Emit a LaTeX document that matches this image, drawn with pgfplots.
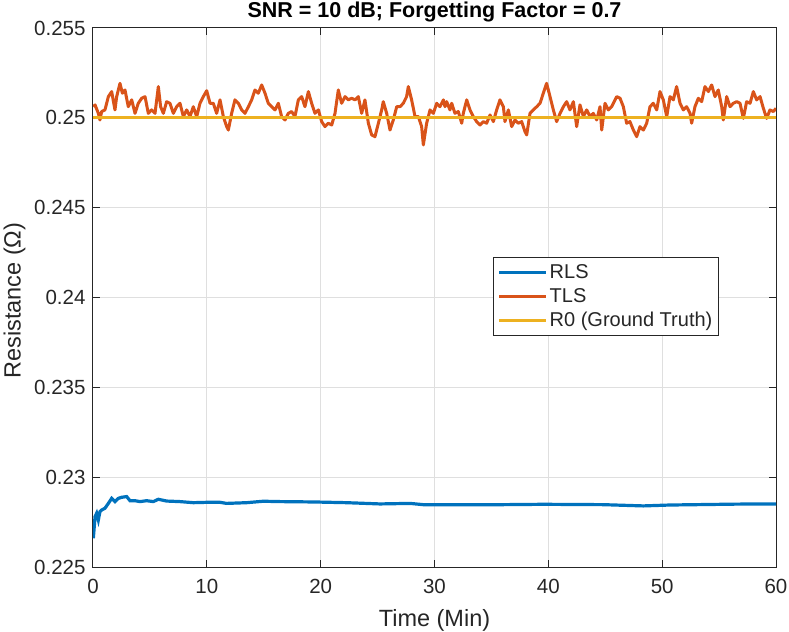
\documentclass[border=0pt]{standalone}
\usepackage{fontspec}
\setmainfont{Liberation Sans}
\usepackage{pgfplots}
\pgfplotsset{compat=1.18}
\definecolor{mlblue}{rgb}{0,0.447,0.741}
\definecolor{mlorange}{rgb}{0.85,0.325,0.098}
\definecolor{mlyellow}{rgb}{0.929,0.694,0.125}
\definecolor{axc}{rgb}{0.15,0.15,0.15}
\definecolor{gridc}{rgb}{0.875,0.875,0.875}
\begin{document}
\begin{tikzpicture}
\begin{axis}[
  name=ax, at={(0,0)}, anchor=south west,
  scale only axis, width=683bp, height=539bp,
  xmin=0, xmax=60, ymin=0.225, ymax=0.255,
  xtick={0,10,20,30,40,50,60},
  ytick={0.225,0.23,0.235,0.24,0.245,0.25,0.255},
  scaled y ticks=false,
  /pgf/number format/assume math mode=true,
  yticklabel style={/pgf/number format/fixed,/pgf/number format/precision=3, xshift=-4bp},
  xticklabel style={yshift=-9bp},
  tick pos=both, tick align=inside,
  major tick length=7bp,
  grid=major,
  major grid style={line width=1bp, color=gridc},
  axis line style={line width=1bp, color=axc},
  every tick/.style={line width=1bp, color=axc},
  tick label style={font=\fontsize{20.5bp}{24bp}\selectfont, color=axc},
  label style={font=\fontsize{23.5bp}{28bp}\selectfont, color=axc},
  xlabel={Time (Min)},
  ylabel={Resistance (Ω)},
  xlabel style={at={(axis description cs:0.5,-0.1113)}, anchor=base},
  ylabel style={at={(axis description cs:-0.106,0.494)}, anchor=base, rotate=0},
  title={SNR = 10 dB; Forgetting Factor = 0.7},
  title style={font=\bfseries\fontsize{21.5bp}{26bp}\selectfont, at={(axis description cs:0.5,1.0186)}, anchor=base, yshift=-6pt},
  legend style={at={(0.5857,0.5751)}, anchor=north west, draw=axc, line width=1bp,
    font=\fontsize{20bp}{24bp}\selectfont, text=axc, row sep=4.5bp, inner xsep=4bp, inner ysep=5bp},
  legend cell align=left,
  legend image code/.code={\draw[#1] (0bp,0bp) -- (47bp,0bp);},
]
\addplot[mlblue, line width=3.2bp] coordinates {
(0.03,0.22660) (0.18,0.22780) (0.32,0.22799) (0.47,0.22762) (0.61,0.22808) (0.76,0.22817)
(1.05,0.22827) (1.35,0.22854) (1.64,0.22882) (1.93,0.22864) (2.23,0.22882) (2.52,0.22888)
(2.96,0.22892) (3.25,0.22869) (3.69,0.22869) (4.13,0.22864) (4.71,0.22869) (5.30,0.22864)
(5.74,0.22877) (6.47,0.22867) (7.64,0.22864) (8.81,0.22858) (9.99,0.22860) (11.16,0.22860)
(11.74,0.22854) (13.50,0.22858) (14.96,0.22866) (16.43,0.22864) (19.36,0.22862) (22.28,0.22858)
(25.21,0.22851) (27.85,0.22854) (29.0,0.22847) (36.04,0.22847) (39.56,0.22849) (44.83,0.22847)
(48.34,0.22840) (50.68,0.22845) (56.54,0.22850) (60,0.22851)
};
\addlegendentry{RLS}
\addplot[mlorange, line width=3bp, line join=round] coordinates {
(0.03,0.25062) (0.18,0.25072) (0.47,0.25025) (0.61,0.24988) (0.76,0.25035) (1.05,0.25044)
(1.35,0.25118) (1.64,0.25146) (1.93,0.25044) (2.08,0.25118) (2.37,0.25192) (2.58,0.25137)
(2.81,0.25155) (3.10,0.25062) (3.40,0.25100) (3.69,0.25025) (3.98,0.25081) (4.28,0.25109)
(4.57,0.25118) (4.86,0.25025) (5.15,0.25044) (5.45,0.25025) (5.74,0.25174) (5.94,0.25062)
(6.18,0.25025) (6.47,0.25090) (6.76,0.25081) (7.06,0.25025) (7.35,0.25062) (7.64,0.25081)
(7.94,0.25007) (8.23,0.25044) (8.52,0.25007) (8.81,0.25062) (9.11,0.25007) (9.40,0.25081)
(9.69,0.25118) (9.99,0.25151) (10.28,0.25081) (10.57,0.25081) (10.86,0.25025) (11.16,0.25100)
(11.45,0.25007) (11.74,0.24951) (11.89,0.24932) (12.18,0.25025) (12.47,0.25100) (12.77,0.25081)
(13.06,0.25044) (13.35,0.25025) (13.65,0.25062) (13.94,0.25100) (14.23,0.25155) (14.52,0.25137)
(14.82,0.25183) (15.11,0.25137) (15.40,0.25081) (15.70,0.25062) (15.99,0.25044) (16.28,0.25081)
(16.57,0.25007) (16.87,0.24988) (17.16,0.25025) (17.45,0.25035) (17.74,0.25007) (18.04,0.25100)
(18.33,0.25118) (18.62,0.25062) (18.92,0.25146) (19.21,0.25081) (19.50,0.25025) (19.80,0.25044)
(20.09,0.24979) (20.38,0.24951) (20.67,0.24970) (20.97,0.24960) (21.26,0.25025) (21.55,0.25155)
(21.84,0.25081) (22.14,0.25118) (22.43,0.25100) (22.72,0.25109) (23.02,0.25100) (23.31,0.25118)
(23.60,0.25025) (23.89,0.25100) (24.19,0.24970) (24.48,0.24905) (24.77,0.24895) (25.07,0.24970)
(25.36,0.25044) (25.50,0.25090) (25.80,0.25025) (26.09,0.24932) (26.38,0.24988) (26.68,0.25062)
(26.97,0.25062) (27.26,0.25081) (27.55,0.25118) (27.70,0.25174) (27.99,0.25100) (28.29,0.25007)
(28.58,0.25007) (28.87,0.24951) (29.02,0.24849) (29.31,0.24970)
(29.61,0.25044) (29.90,0.25025) (30.19,0.25081) (30.48,0.25062) (30.78,0.25100) (30.92,0.25062)
(31.07,0.25090) (31.36,0.25044) (31.51,0.25081) (31.80,0.25025) (32.09,0.25035) (32.39,0.24970)
(32.53,0.25025) (32.83,0.25100) (33.12,0.25044) (33.41,0.25007) (33.70,0.24979) (34.00,0.24960)
(34.29,0.24979) (34.58,0.24970) (34.88,0.25016) (35.17,0.24979) (35.46,0.25044) (35.75,0.25100)
(36.05,0.25062) (36.19,0.24979) (36.49,0.25044) (36.78,0.24951) (37.07,0.24988) (37.36,0.24970)
(37.66,0.24979) (37.95,0.24923) (38.10,0.24905) (38.39,0.25025) (38.68,0.25044) (38.98,0.25062)
(39.27,0.25081) (39.56,0.25137) (39.85,0.25192) (40.15,0.25118) (40.44,0.25044) (40.73,0.24979)
(41.03,0.25025) (41.32,0.25062) (41.61,0.25090) (41.90,0.25044) (42.20,0.25090) (42.49,0.24951)
(42.78,0.25072) (43.08,0.25007) (43.37,0.25044) (43.66,0.25007) (43.95,0.25025) (44.25,0.24988)
(44.54,0.25062) (44.69,0.24932) (44.98,0.25081) (45.27,0.25044) (45.56,0.25062) (46.00,0.25118)
(46.30,0.25109) (46.59,0.25062) (46.88,0.24970) (47.17,0.24979) (47.47,0.24932) (47.76,0.24895)
(48.05,0.24951) (48.35,0.24932) (48.64,0.24970) (48.93,0.25062) (49.22,0.25081) (49.52,0.25044)
(49.81,0.25146) (50.10,0.25100) (50.40,0.25007) (50.69,0.25118) (50.98,0.25100) (51.27,0.25174)
(51.57,0.25081) (51.86,0.25044) (52.15,0.25062) (52.45,0.25025) (52.59,0.24970) (52.88,0.25062)
(53.18,0.25109) (53.47,0.25090) (53.76,0.25174) (54.06,0.25146) (54.35,0.25183) (54.64,0.25118)
(54.93,0.25155) (55.23,0.25062) (55.37,0.24988) (55.67,0.25118) (55.96,0.25062) (56.25,0.25081)
(56.55,0.25090) (56.84,0.25081) (57.13,0.24997) (57.42,0.25090) (57.72,0.25081) (58.01,0.25146)
(58.30,0.25100) (58.60,0.25118) (58.89,0.25053) (59.18,0.24997) (59.47,0.25044) (59.77,0.25035)
(60.00,0.25053)
};
\addlegendentry{TLS}
\addplot[mlyellow, line width=3bp] coordinates {(0,0.25) (60,0.25)};
\addlegendentry{R0 (Ground Truth)}
\end{axis}
\pgfresetboundingbox
\path[use as bounding box] (-93bp,-65bp) rectangle (696bp,567bp);
\end{tikzpicture}
\end{document}
